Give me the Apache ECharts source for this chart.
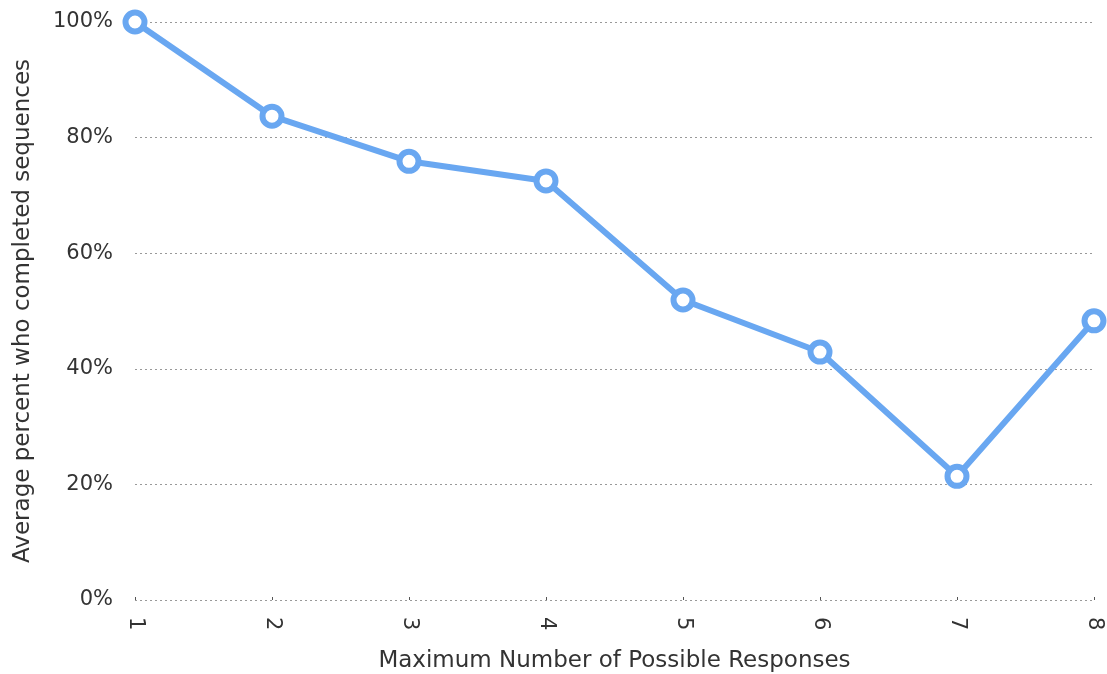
<!DOCTYPE html>
<html><head><meta charset="utf-8">
<script src="https://cdn.jsdelivr.net/npm/echarts@6/dist/echarts.min.js"></script>
<style>html,body{margin:0;padding:0;background:#fff}#c{width:1107px;height:674px}</style>
</head><body><div id="c"></div>
<script>
const categories = ['1','2','3','4','5','6','7','8'];
const completedPct = [100, 83.7, 75.9, 72.5, 51.9, 42.9, 21.4, 48.3];
const yTicks = [0, 20, 40, 60, 80, 100];

const font = "'DejaVu Sans', 'Liberation Sans', Arial, sans-serif";
const txt = { fontFamily: font, fontSize: 21, color: '#333', fontWeight: 'normal' };
const titleTxt = { fontFamily: font, fontSize: 23, color: '#333', fontWeight: 'normal' };
const chart = echarts.init(document.getElementById('c'));
chart.setOption({
  animation: false,
  grid: { left: 135, right: 13, top: 22, bottom: 74, outerBoundsMode: 'none', containLabel: false },
  xAxis: {
    type: 'category', data: categories, boundaryGap: false,
    name: 'Maximum Number of Possible Responses', nameLocation: 'middle', nameGap: 50,
    nameTextStyle: titleTxt,
    axisLine: { show: false },
    axisTick: { show: true, length: 3, inside: true, lineStyle: { color: '#555' } },
    axisLabel: Object.assign({ rotate: -90, margin: 17 }, txt)
  },
  yAxis: {
    type: 'value', min: 0, max: 100, interval: 20,
    name: 'Average percent who completed sequences', nameLocation: 'middle', nameGap: 100,
    nameTextStyle: titleTxt,
    axisLine: { show: false }, axisTick: { show: false },
    axisLabel: Object.assign({ margin: 22,
      formatter: v => yTicks.includes(v) ? v + '%' : '' }, txt),
    splitLine: { lineStyle: { type: [2, 3], color: '#999', width: 1 } }
  },
  series: [{
    type: 'line', data: completedPct,
    lineStyle: { color: '#69a7f1', width: 6 },
    symbol: 'circle', symbolSize: 19,
    itemStyle: { color: '#fff', borderColor: '#69a7f1', borderWidth: 6 }
  }]
});
</script></body></html>
